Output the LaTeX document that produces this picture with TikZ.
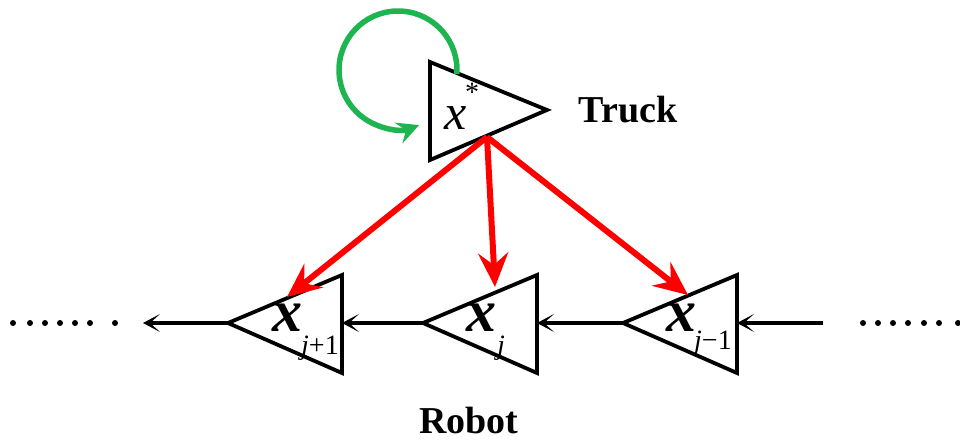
\documentclass[tikz,border=0pt]{standalone}
\usepackage{fontspec}
\setmainfont{Liberation Serif}
\usetikzlibrary{arrows.meta}
\tikzset{
  tri/.style={draw=black, line width=3.8pt, line join=miter},
  flow/.style={draw=black, line width=3.2pt, -{Stealth[length=17pt,width=18pt,inset=10pt]}},
  redarr/.style={draw={rgb,255:red,255;green,0;blue,0}, line width=6pt, -{Stealth[length=34pt,width=30pt,inset=12pt]}},
  greenarr/.style={draw={rgb,255:red,30;green,180;blue,80}, line width=5.5pt, -{Stealth[length=22pt,width=22pt,inset=8pt]}},
  bigx/.style={inner sep=0pt, font=\fontsize{60}{60}\selectfont\bfseries\itshape},
  subs/.style={inner sep=0pt, anchor=west, font=\fontsize{28}{28}\selectfont},
  lbl/.style={inner sep=0pt, font=\fontsize{38}{38}\selectfont\bfseries},
  dotmark/.style={fill=black, circle, inner sep=0pt, minimum size=6pt}
}
\begin{document}
\begin{tikzpicture}[x=1pt,y=-1pt]
\useasboundingbox (0,0) rectangle (960,443);
% truck triangle
\coordinate (t1) at (430,62);
\coordinate (t2) at (430,160);
\coordinate (t3) at (547,110);
\draw[tri] (t1) -- (t3) -- (t2) -- cycle;
\node[inner sep=0pt, font=\fontsize{50}{50}\selectfont\itshape] (xs) at (456,118) {x};
\node[inner sep=0pt, font=\fontsize{28}{28}\selectfont] (star) at (472,92) {*};
\node[lbl] (truck) at (628,110) {Truck};
% robot triangles
\coordinate (a1) at (228,323); \coordinate (a2) at (342,275); \coordinate (a3) at (342,373);
\coordinate (b1) at (423,323); \coordinate (b2) at (537,275); \coordinate (b3) at (537,373);
\coordinate (c1) at (623,323); \coordinate (c2) at (737,275); \coordinate (c3) at (737,373);
\draw[tri] (a1) -- (a2) -- (a3) -- cycle;
\draw[tri] (b1) -- (b2) -- (b3) -- cycle;
\draw[tri] (c1) -- (c2) -- (c3) -- cycle;
\coordinate (a2m) at (342,323);
\coordinate (b2m) at (537,323);
\coordinate (c2m) at (737,323);
% labels
\node[bigx] (xa) at (287,318) {x};
\node[subs] (sa) at (301,348) {\itshape j\upshape +1};
\node[bigx] (xb) at (481,318) {x};
\node[subs] (sb) at (497,348) {\itshape j};
\node[bigx] (xc) at (681,318) {x};
\node[subs] (sc) at (694,343) {\itshape j\upshape −1};
\node[lbl] (robot) at (469,421) {Robot};
% horizontal arrows
\coordinate (lend) at (143,323);
\coordinate (rstart) at (823,323);
\draw[flow] (rstart) -- (c2m);
\draw[flow] (c1) -- (b2m);
\draw[flow] (b1) -- (a2m);
\draw[flow] (a1) -- (lend);
% dots
\foreach \px [count=\i] in {13,30,45,60,75,90,115}
  \node[dotmark] (ld\i) at (\px,323) {};
\foreach \px [count=\i] in {863,878,893,908,924,939,958}
  \node[dotmark] (rd\i) at (\px,323) {};
% red arrows
\coordinate (src) at (487,137);
\coordinate (ta) at (287,297);
\coordinate (tb) at (495,287);
\coordinate (tc) at (688,295);
\draw[redarr] (src) -- (ta);
\draw[redarr] (src) -- (tb);
\draw[redarr] (src) -- (tc);
% green self loop
\coordinate (gc) at (398,70);
\draw[greenarr] (gc) ++(4:59) arc[start angle=4, delta angle=-295, radius=59];
\end{tikzpicture}
\end{document}
